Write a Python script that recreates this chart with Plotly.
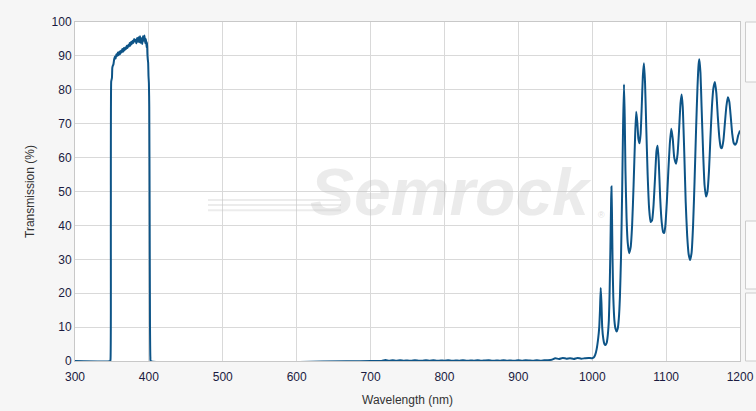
import plotly.graph_objects as go

# ---- data ----
wl_block_left = [300, 347.5, 348, 348.5, 349, 349.5, 350, 350.5, 351, 352, 353, 354, 355, 356, 357, 358,
                 359, 360, 361, 362, 363, 364, 365, 366, 367, 368, 369, 370, 371, 372, 373, 374, 375,
                 376, 377, 378, 379, 380, 381, 382, 383, 384, 385, 386, 387, 388, 389, 390, 391, 392,
                 393, 394, 395, 396, 397, 397.5, 398, 398.5, 399, 399.5, 400, 400.5, 401, 401.5, 402, 402.5]
t_block_left = [0, 0, 0.3, 40, 82.5, 83, 83.5, 86.5, 87, 87.5, 89, 89.8, 89.2, 90.5, 90, 91,
                90.2, 91.3, 90.5, 91.5, 91, 92, 91.2, 92.3, 91.6, 92.5, 92, 93, 92.3, 93.2, 92.8, 93.8, 93,
                94.2, 93.5, 94.5, 93.8, 95, 94.3, 94.8, 93.7, 95.3, 94.2, 95.5, 94, 95.8, 93.8, 95.2, 93.5, 95.8,
                94.5, 96, 93.8, 95, 92.5, 94, 90.5, 89, 88, 84, 82, 75, 45, 10, 1, 0]

wl_block_mid = [700, 715, 720, 725, 730, 735, 740, 745, 750, 755, 760, 765, 770, 775, 780, 785, 790, 795,
                800, 805, 810, 815, 820, 825, 830, 835, 840, 845, 850, 855, 860, 865, 870, 875, 880, 885,
                890, 895, 900, 905, 910, 915, 920, 925, 930, 935, 940, 945, 950, 955, 960, 965, 970, 975,
                980, 985, 990, 995]
t_block_mid = [0, 0, 0.3, 0.1, 0.2, 0.05, 0.25, 0.1, 0.15, 0.05, 0.2, 0.1, 0.05, 0.25, 0.1, 0.2, 0.05, 0.15,
               0.1, 0.2, 0.05, 0.15, 0.1, 0.25, 0.05, 0.15, 0.1, 0.2, 0.05, 0.15, 0.2, 0.05, 0.15, 0.1, 0.25, 0.1,
               0.15, 0.05, 0.2, 0.1, 0.25, 0.15, 0.05, 0.2, 0.1, 0.2, 0.25, 0.35, 0.8, 0.6, 0.9, 0.7, 0.8, 0.6,
               0.9, 0.7, 0.8, 0.9]

wl_block_right = [1000, 1002, 1004, 1006, 1008, 1009.5, 1010.5, 1011.5, 1012.5, 1013.5, 1015, 1016.5, 1018,
                  1019.5, 1021, 1022.5, 1023.5, 1024.5, 1025.5, 1026, 1026.7, 1027.5, 1028.5, 1030, 1031.5,
                  1033, 1034.5, 1036, 1037.5, 1039, 1040.5, 1041.8, 1043, 1044, 1045, 1046.5, 1048, 1050,
                  1052, 1054, 1056, 1058, 1059.5, 1061, 1062.5, 1064, 1065.5, 1067, 1068.5, 1070, 1071.5,
                  1073, 1075, 1077, 1079, 1081, 1083, 1085, 1087, 1088.5, 1090, 1092, 1094, 1096, 1097.5,
                  1099, 1101, 1103, 1105, 1107, 1109, 1111, 1113.5, 1115.5, 1117.5, 1119.5, 1121, 1122.5,
                  1124.5, 1126.5, 1128.5, 1130.5, 1132.5, 1134.5, 1136.5, 1138.5, 1140.5, 1142.5, 1144,
                  1145, 1146.5, 1148, 1150, 1152, 1154, 1156, 1158, 1160, 1162, 1164, 1166, 1168, 1170,
                  1172, 1174, 1175.5, 1177.5, 1179.5, 1181.5, 1183.5, 1185.5, 1187.5, 1189.5, 1191.5,
                  1193.5, 1195.5, 1197.5, 1200]
t_block_right = [0.8, 1.0, 1.8, 3.5, 6.5, 10, 15, 21.5, 17, 10, 6.5, 5, 4.7,
                 5.3, 7.5, 12, 20, 32, 46, 51.5, 44, 30, 19, 12, 9.5,
                 8.7, 9.5, 12.5, 19, 31, 50, 70, 81.6, 72, 56, 42, 35, 31.8,
                 33.5, 40, 52, 66, 73.5, 70.5, 65.5, 64.2, 67, 75, 84, 87.8, 82,
                 70, 55, 45, 41, 41.5, 46, 54, 62, 63.5, 59, 48, 41, 38, 37.8,
                 40, 47, 56, 64, 68.5, 65.5, 60, 58.2, 61, 68, 76, 78.6, 75,
                 62, 47, 37, 31.5, 29.8, 32, 40, 53, 68, 81, 87.5,
                 89, 85, 75, 62, 52, 48.5, 50, 56, 66, 75, 80.5, 82.3, 79, 72,
                 66, 63, 62.8, 65, 70, 75, 77.8, 76.5, 72, 67, 64.3,
                 63.8, 64.5, 66.5, 68]

x_ticks = [300, 400, 500, 600, 700, 800, 900, 1000, 1100, 1200]
y_ticks = [0, 10, 20, 30, 40, 50, 60, 70, 80, 90, 100]

wavelength = wl_block_left + wl_block_mid + wl_block_right
transmission = t_block_left + t_block_mid + t_block_right

LINE = "#0d5487"
GRID = "#d9d9d9"
FONT = "Liberation Sans, Arial, sans-serif"

fig = go.Figure()
fig.add_trace(go.Scatter(
    x=wavelength, y=transmission, mode="lines",
    line=dict(color=LINE, width=2, shape="spline", smoothing=0.5),
    hoverinfo="x+y", showlegend=False,
))

fig.update_layout(
    width=756, height=411,
    margin=dict(l=75, r=16, t=22, b=50, autoexpand=False),
    paper_bgcolor="#f6f6f6",
    plot_bgcolor="#ffffff",
    font=dict(family=FONT, size=12, color="#222222"),
    xaxis=dict(
        range=[300, 1200], tickvals=x_ticks, ticktext=[str(v) for v in x_ticks],
        showgrid=True, gridcolor=GRID, gridwidth=1, automargin=False,
        showline=True, linecolor="#c8c8c8", linewidth=1, mirror=True,
        zeroline=False, ticks="", ticklen=0, ticklabelstandoff=5,
        tickfont=dict(family=FONT, size=12, color="#1a1a40"),
        title=dict(text="Wavelength (nm)", font=dict(family=FONT, size=12, color="#333333"), standoff=12),
    ),
    yaxis=dict(
        range=[0, 100], tickvals=y_ticks, ticktext=[str(v) for v in y_ticks],
        showgrid=True, gridcolor=GRID, gridwidth=1, automargin=False,
        showline=True, linecolor="#c8c8c8", linewidth=1, mirror=True,
        zeroline=False, ticks="", ticklen=0,
        tickfont=dict(family=FONT, size=12, color="#1a1a40"),
        title=dict(text="Transmission (%)", font=dict(family=FONT, size=12, color="#333333"), standoff=14),
    ),
)

# watermark
fig.add_annotation(
    text="<b><i>Semrock</i></b>", xref="paper", yref="paper", x=0.565, y=0.50,
    showarrow=False, font=dict(family="Liberation Sans, Arial", size=66, color="rgba(190,190,190,0.30)"),
)
fig.add_annotation(
    text="®", xref="paper", yref="paper", x=0.80, y=0.43,
    showarrow=False, font=dict(family="Liberation Sans, Arial", size=9, color="rgba(190,190,190,0.5)"),
)
for yy in (0.445, 0.46, 0.475):
    fig.add_shape(type="line", xref="paper", yref="paper", x0=0.2, x1=0.4, y0=yy, y1=yy,
                  line=dict(color="rgba(200,200,200,0.35)", width=2), layer="above")

# cut-off side panel boxes at right edge
for y0, y1 in ((22, 82), (221, 289), (293, 361)):
    fig.add_shape(type="rect", xref="paper", yref="paper",
                  x0=(745.5 - 75) / 665, x1=(770 - 75) / 665,
                  y0=(361 - y1) / 339, y1=(361 - y0) / 339,
                  line=dict(color="#cccccc", width=1), fillcolor="#fbfbfb", layer="below")

fig.write_html("out.html", config={"displayModeBar": False},
               post_script="document.body.style.margin='0';document.body.style.overflow='hidden';")
